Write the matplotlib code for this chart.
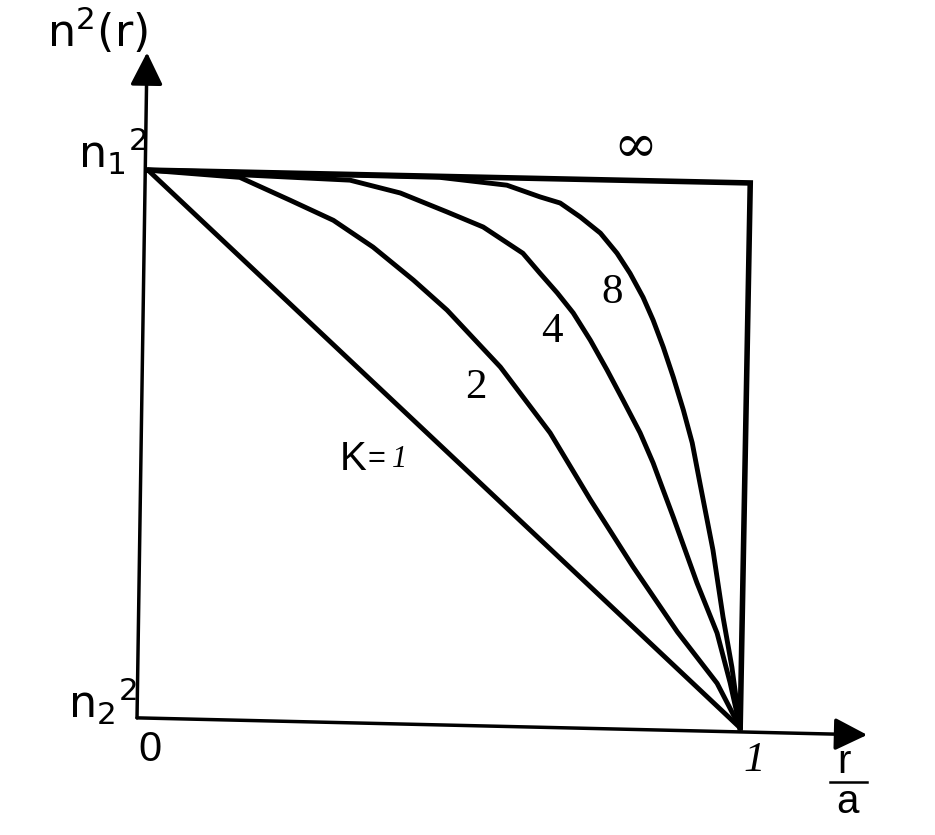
import matplotlib
matplotlib.use("Agg")
import matplotlib.pyplot as plt

# ---- data (r/a, normalised n^2 between n2^2=0 and n1^2=1) ----
r_k1 = [0.0, 0.16, 0.34, 0.51, 0.62, 0.79, 0.93, 1.0]
n_k1 = [1.0, 0.84, 0.66, 0.49, 0.38, 0.21, 0.07, 0.0]

r_k2 = [0.0, 0.155, 0.240, 0.313, 0.380, 0.448, 0.505, 0.595, 0.679, 0.747, 0.819, 0.894, 0.961, 1.0]
n_k2 = [1.0, 0.987, 0.946, 0.910, 0.862, 0.803, 0.749, 0.647, 0.529, 0.409, 0.289, 0.172, 0.080, 0.0]

r_k4 = [0.0, 0.341, 0.426, 0.505, 0.566, 0.633, 0.662, 0.691, 0.718, 0.747, 0.775, 0.802, 0.831,
        0.853, 0.868, 0.887, 0.927, 0.961, 0.983, 1.0]
n_k4 = [1.0, 0.982, 0.959, 0.925, 0.898, 0.851, 0.815, 0.780, 0.744, 0.695, 0.642, 0.588, 0.529,
        0.475, 0.432, 0.378, 0.260, 0.170, 0.081, 0.0]

r_k8 = [0.0, 0.493, 0.606, 0.662, 0.696, 0.730, 0.764, 0.792, 0.814, 0.836, 0.853, 0.870, 0.887,
        0.904, 0.919, 0.932, 0.954, 0.971, 0.986, 1.0]
n_k8 = [1.0, 0.987, 0.973, 0.952, 0.941, 0.916, 0.887, 0.851, 0.815, 0.772, 0.731, 0.683, 0.629,
        0.570, 0.511, 0.439, 0.319, 0.199, 0.109, 0.0]

r_inf = [0.0, 1.017, 1.0]
n_inf = [1.0, 0.977, 0.0]

curve_labels = ["2", "4", "8", "\u221e"]

plt.rcParams["mathtext.fontset"] = "custom"
plt.rcParams["mathtext.rm"] = "Liberation Sans"
plt.rcParams["mathtext.it"] = "Liberation Sans"

fig = plt.figure(figsize=(9.35, 8.35), dpi=100)
ax = fig.add_axes([0, 0, 1, 1])
ax.set_xlim(-0.25, 1.329)
ax.set_ylim(-0.192, 1.305)
ax.axis("off")

lw = 3.5
for r, n in [(r_k1, n_k1), (r_k2, n_k2), (r_k4, n_k4), (r_k8, n_k8)]:
    ax.plot(r, n, color="black", lw=lw, solid_joinstyle="round", solid_capstyle="round")
ax.plot(r_inf, n_inf, color="black", lw=4.0, solid_joinstyle="miter")

# axes with arrow heads
arrow = dict(arrowstyle="-|>,head_length=1.0,head_width=0.5", color="black",
             lw=2.5, mutation_scale=20, shrinkA=0, shrinkB=0)
ax.annotate("", xy=(-0.0017, 1.211), xytext=(-0.0186, 0.018), arrowprops=arrow)
ax.annotate("", xy=(1.2145, -0.0125), xytext=(-0.0186, 0.018), arrowprops=arrow)

sans = "Liberation Sans"
serif = "Liberation Serif"

ax.text(-0.171, 1.220, r"$\mathregular{n^{2}(r)}$", fontsize=32, ha="left", va="baseline")
ax.text(-0.118, 1.005, r"$\mathregular{n_{1}{}^{2}}$", fontsize=32, ha="left", va="baseline")
ax.text(-0.135, 0.018, r"$\mathregular{n_{2}{}^{2}}$", fontsize=32, ha="left", va="baseline")
ax.text(0.003, -0.004, "0", fontsize=30, family=sans, ha="center", va="top")
ax.text(1.024, -0.025, "1", fontsize=31, family=serif, style="italic", ha="center", va="top")
ax.text(1.176, -0.081, "r", fontsize=29, family=sans, ha="center", va="baseline")
ax.plot([1.152, 1.215], [-0.097, -0.097], color="black", lw=1.8)
ax.text(1.182, -0.152, "a", fontsize=29, family=sans, ha="center", va="baseline")

ax.text(0.554, 0.609, curve_labels[0], fontsize=31, family=serif, ha="center", va="center")
ax.text(0.682, 0.710, curve_labels[1], fontsize=31, family=serif, ha="center", va="center")
ax.text(0.784, 0.781, curve_labels[2], fontsize=31, family=serif, ha="center", va="center")
ax.text(0.823, 1.041, curve_labels[3], fontsize=38, family="DejaVu Serif", ha="center", va="center")

ax.text(0.324, 0.462, "K", fontsize=29, family=sans, ha="left", va="baseline")
ax.text(0.370, 0.468, "=", fontsize=22, family=sans, ha="left", va="baseline")
ax.text(0.412, 0.468, "1", fontsize=22, family=serif, style="italic", ha="left", va="baseline")

fig.savefig("out.png", dpi=100, facecolor="white")
